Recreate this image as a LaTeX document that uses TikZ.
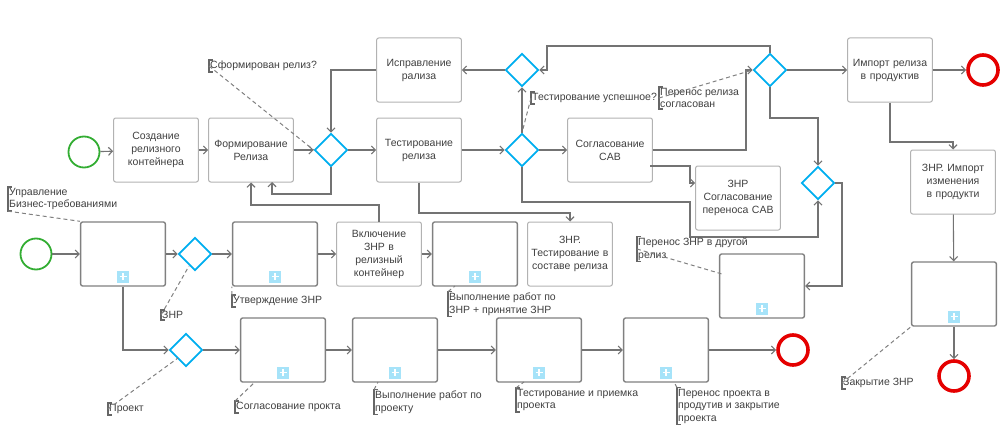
\documentclass[tikz,border=0pt]{standalone}
\usepackage{fontspec}
\setmainfont{Liberation Sans}
\usetikzlibrary{shapes.geometric,arrows.meta}
\definecolor{gatecol}{RGB}{0,174,239}

\tikzset{
  task/.style={draw=black!30,line width=1pt,rounded corners=2pt,minimum width=80pt,minimum height=64pt,align=center,text width=78pt,font=\fontsize{10.5}{13}\selectfont,text=black!75},
  sub/.style={task,draw=black!50,line width=1.4pt},
  gate/.style={diamond,draw=gatecol,line width=1.7pt,minimum width=33pt,minimum height=33pt,inner sep=0pt},
  startev/.style={circle,draw=green!60!black!80,line width=1.8pt,minimum size=31pt,inner sep=0pt},
  endev/.style={circle,draw=red!90!black,line width=3.6pt,minimum size=30pt,inner sep=0pt},
  flow/.style={draw=black!55,line width=1.1pt,-{Straight Barb[length=4pt,width=8pt]}},
  note/.style={anchor=west,align=left,inner sep=1pt,font=\fontsize{10.5}{12.5}\selectfont,text=black!75},
  assoc/.style={draw=black!50,line width=1pt,dash pattern=on 4pt off 3pt},
}
\newcommand{\plusmark}[1]{%
  \fill[gatecol!35!white] ($(#1.south)+(-6,-16)$) rectangle ($(#1.south)+(6,-4)$);
  \draw[white,line width=1.2pt] ($(#1.south)+(-3.5,-10)$) -- ($(#1.south)+(3.5,-10)$) ($(#1.south)+(0,-13.5)$) -- ($(#1.south)+(0,-6.5)$);}
\newcommand{\bracket}[1]{%
  \draw[black!60,line width=1.4pt] ($(#1.north west)+(4,0)$) -- (#1.north west) -- (#1.south west) -- ++(4,0);}
\usetikzlibrary{calc}

\begin{document}
\begin{tikzpicture}[x=1pt,y=1pt,yscale=-1,xscale=1]
\useasboundingbox (0,0) rectangle (1008,428);

% Release lane
\node[startev] (st1) at (84,152) {};
\node[task] (create) at (156,150) {Создание релизного контейнера};
\node[task] (form) at (251,150) {Формирование Релиза};
\node[gate] (gform) at (331,150) {};
\node[task] (fix) at (419,70) {Исправление рализа};
\node[task] (test) at (419,150) {Тестирование релиза};
\node[gate] (gfix) at (522,70) {};
\node[gate] (gtest) at (522,150) {};
\node[task] (cab) at (610,150) {Согласование CAB};
\node[gate] (gcab) at (770,70) {};
\node[task] (imp) at (890,70) {Импорт релиза в продуктив};
\node[endev] (end1) at (983,70) {};
\node[task] (zcab) at (738,198) {ЗНР Согласование переноса CAB};
\node[gate] (gmove) at (818,183) {};
\node[task] (zimp) at (953,182) {ЗНР. Импорт изменения в продукти};

% Requirements lane
\node[startev] (st2) at (36,254) {};
\node[sub] (bizreq) at (123,254) {};
\node[gate] (gtype) at (195,254) {};
\node[sub] (appr) at (275,254) {};
\node[task] (incl) at (379,254) {Включение ЗНР в релизный контейнер};
\node[sub] (work) at (475,254) {};
\node[task] (ztest) at (570,254) {ЗНР. Тестирование в составе релиза};
\node[sub] (move) at (762,286) {};
\node[sub] (close) at (954,294) {};
\node[endev] (end3) at (954,376) {};

% Project lane
\node[gate] (gproj) at (186,350) {};
\node[sub] (pagree) at (283,350) {};
\node[sub] (pwork) at (395,350) {};
\node[sub] (ptest) at (539,350) {};
\node[sub] (pmove) at (666,350) {};
\node[endev] (end2) at (793,350) {};

\foreach \n in {bizreq,appr,work,move,close,pagree,pwork,ptest,pmove} {\plusmark{\n}}

% Flows
\draw[flow] (st1) -- (create);
\draw[flow] (create) -- (form);
\draw[flow] (form) -- (gform);
\draw[flow] (gform) -- (test);
\draw[flow] (test) -- (gtest);
\draw[flow] (gtest) -- (cab);
\draw[flow] (fix.west) -| (gform.north);
\draw[flow] (gform.south) |- (272,194) -- (272,182);
\draw[flow] (incl.north) |- (251,205) -- (form.south west -| 251,0);
\draw[flow] (test.south) |- (570,213) -- (ztest.north);
\draw[flow] (gtest.north) -- (gfix.south);
\draw[flow] (gfix.west) -- (fix.east);
\draw[flow] (gcab.north) |- (547,46) |- (gfix.east);
\draw[flow] (cab.east) -| (746,70) -- (gcab.west);
\draw[flow] (gcab) -- (imp);
\draw[flow] (imp) -- (end1);
\draw[flow] (gcab.south) |- (818,118) -- (gmove.north);
\draw[flow] (gmove.east) -| (842,286) -- (move.east);
\draw[flow] (gtest.south) |- (690,202) |- (818,237) -- (gmove.south);
\draw[flow] (650,166) -| (690,183) -- (zcab.west |- 0,183);
\draw[flow] (imp.south) |- (953,142) -- (zimp.north);
\draw[flow] (zimp) -- (close);
\draw[flow] (close) -- (end3);
\draw[flow] (st2) -- (bizreq);
\draw[flow] (bizreq) -- (gtype);
\draw[flow] (gtype) -- (appr);
\draw[flow] (appr) -- (incl);
\draw[flow] (incl) -- (work);
\draw[flow] (bizreq.south) |- (gproj.west);
\draw[flow] (gproj) -- (pagree);
\draw[flow] (pagree) -- (pwork);
\draw[flow] (pwork) -- (ptest);
\draw[flow] (ptest) -- (pmove);
\draw[flow] (pmove) -- (end2);

% Annotations
\node[note] (nform) at (209,66) {Сформирован релиз?};
\node[note] (nbiz) at (8,199) {Управление\\Бизнес-требованиями};
\node[note] (ntype) at (161,315) {ЗНР};
\node[note] (nappr) at (232,301) {Утверждение ЗНР};
\node[note] (nwork) at (448,304) {Выполнение работ по\\ЗНР + принятие ЗНР};
\node[note] (ntest) at (531,98) {Тестирование успешное?};
\node[note] (ncab) at (659,98) {Перенос релиза\\согласован};
\node[note] (nmove) at (637,249) {Перенос ЗНР в другой\\релиз};
\node[note] (nproj) at (108,409) {Проект};
\node[note] (npag) at (235,407) {Согласование прокта};
\node[note] (npw) at (374,402) {Выполнение работ по\\проекту};
\node[note] (npt) at (516,400) {Тестирование и приемка\\проекта};
\node[note] (npm) at (677,406) {Перенос проекта в\\продутив и закрытие\\проекта};
\node[note] (nclose) at (842,383) {Закрытие ЗНР};
\foreach \n in {nform,nbiz,ntype,nappr,nwork,ntest,ncab,nmove,nproj,npag,npw,npt,npm,nclose} {\bracket{\n}}

\draw[assoc] (nform.west) -- (gform.west);
\draw[assoc] (nbiz.south west) -- (bizreq.north west);
\draw[assoc] (ntype.west) -- (189,266);
\draw[assoc] (nappr.north west) -- (appr.south west);
\draw[assoc] (nwork.north west) -- (455,286);
\draw[assoc] (ntest.west) -- (gtest.north);
\draw[assoc] (ncab.west) -- (gcab.west);
\draw[assoc] (nmove.west) -- (722,274);
\draw[assoc] (nproj.west) -- (178,358);
\draw[assoc] (npag.north west) -- (255,382);
\draw[assoc] (npw.north west) -- (378,382);
\draw[assoc] (npt.north west) -- (524,382);
\draw[assoc] (npm.north west) -- (674,382);
\draw[assoc] (nclose.west) -- (close.south west);

\end{tikzpicture}
\end{document}
